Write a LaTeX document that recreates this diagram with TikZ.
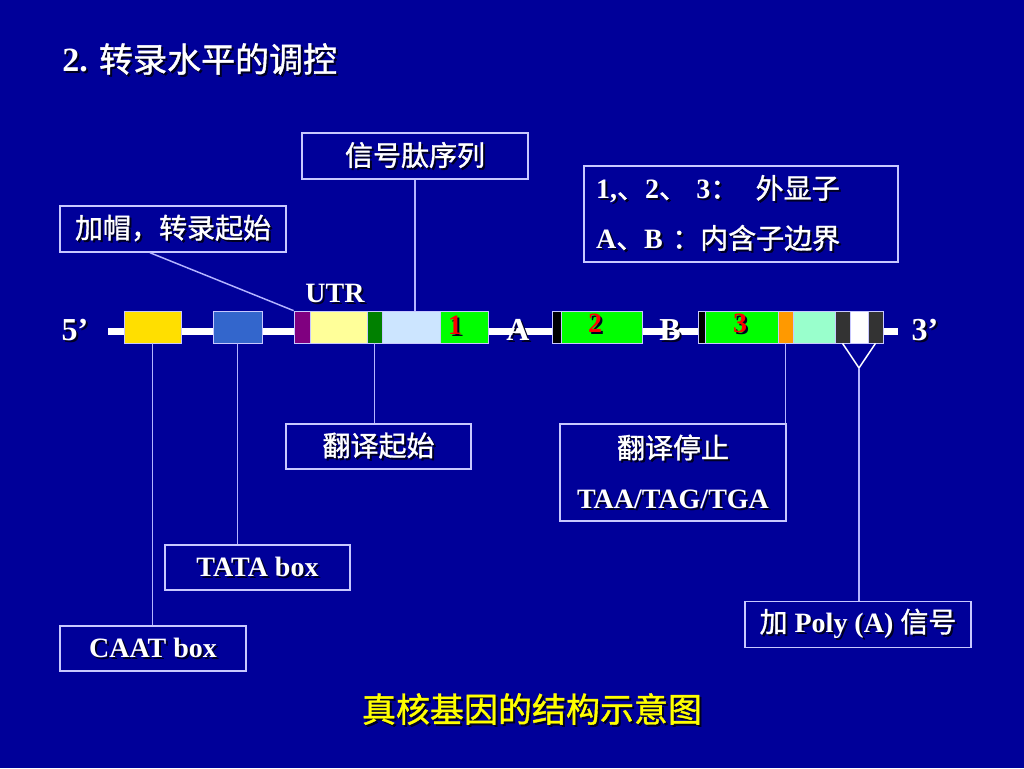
\documentclass[tikz,border=0pt]{standalone}
\usepackage{fontspec}
\setmainfont{Liberation Serif}
\newfontfamily\cjk{Noto Sans CJK SC}[FakeBold=1.2]
\newcommand\zh[1]{{\cjk\mdseries #1}}
\definecolor{bgc}{HTML}{000099}
\definecolor{boxc}{HTML}{C8C8FF}
\definecolor{linec}{HTML}{B4B4FF}
\definecolor{shadowc}{HTML}{000022}
\definecolor{capyel}{HTML}{FFFF00}
\definecolor{cyel}{HTML}{FFDF00}
\definecolor{cblue}{HTML}{3366CC}
\definecolor{cpur}{HTML}{800080}
\definecolor{clyel}{HTML}{FFFF99}
\definecolor{cdgreen}{HTML}{008000}
\definecolor{clblue}{HTML}{CCE5FF}
\definecolor{cgreen}{HTML}{00FF00}
\definecolor{corange}{HTML}{FF9900}
\definecolor{caqua}{HTML}{99FFCC}
\definecolor{cdgray}{HTML}{333333}
\definecolor{cred}{HTML}{FF0000}
\newcommand\shd[1]{\leavevmode\rlap{\kern1.5pt\raisebox{-1.5pt}{\color{shadowc}#1}}#1}
\newcommand\seg[4]{\node[segbox, fill=#4, minimum width={(#3-#2)*0.75pt}] (#1) at ({(#2+#3)/2},327) {};}
\tikzset{
  x=0.75pt, y=-0.75pt,
  segbox/.style={rectangle, inner sep=0pt, minimum height=24pt, draw=boxc, line width=0.5pt},
  lblbox/.style={rectangle, draw=boxc, line width=1.1pt, inner sep=0pt, text=white,
    font=\bfseries\fontsize{21}{37.5}\selectfont, align=center},
  conn/.style={draw=linec, line width=1.1pt},
  endlbl/.style={text=white, font=\bfseries\fontsize{24}{28}\selectfont, inner sep=0pt},
  numlbl/.style={text=cred, font=\bfseries\fontsize{21}{25}\selectfont, inner sep=0pt},
}
\begin{document}
\begin{tikzpicture}
\fill[bgc] (0,0) rectangle (1024,768);
\useasboundingbox (0,0) rectangle (1024,768);

% title
\node[anchor=west, text=white, inner sep=0pt, font=\bfseries\fontsize{25.5}{30}\selectfont] (title) at (62,60) {\shd{2. \zh{转录水平的调控}}};

% backbone
\coordinate (lineL) at (108,331);
\coordinate (lineR) at (898,331);
\draw[white, line width=5.25pt] (lineL) -- (lineR);

% segments
\seg{yel}{124}{181}{cyel}
\seg{blu}{213}{262}{cblue}
\seg{pur}{294}{310}{cpur}
\seg{lyel}{310}{367}{clyel}
\seg{dgr}{367}{382}{cdgreen}
\seg{lbl}{382}{440}{clblue}
\seg{ex1}{440}{488}{cgreen}
\seg{bk2}{552}{561}{black}
\seg{ex2}{561}{642}{cgreen}
\seg{bk3}{698}{705}{black}
\seg{ex3}{705}{778}{cgreen}
\seg{ora}{778}{793}{corange}
\seg{aqu}{793}{835}{caqua}
\seg{gr1}{835}{850}{cdgray}
\seg{wht}{850}{868}{white}
\seg{gr2}{868}{883}{cdgray}

% end and intron labels
\node[endlbl] (five) at (75,331) {\shd{5’}};
\node[endlbl] (three) at (925,331) {\shd{3’}};
\node[endlbl] (la) at (518,331) {\shd{A}};
\node[endlbl] (lb) at (670,331) {\shd{B}};
\node[text=white, inner sep=0pt, font=\bfseries\fontsize{21}{25}\selectfont] (utr) at (335,294) {\shd{UTR}};
\node[numlbl] (n1) at (455,326) {\shd{1}};
\node[numlbl] (n2) at (595,324) {\shd{2}};
\node[numlbl] (n3) at (740,324) {\shd{3}};

% label boxes
\node[lblbox, minimum width=169.5pt, minimum height=34.5pt] (sig) at (415,156) {\shd{\zh{信号肽序列}}};
\node[lblbox, minimum width=169.5pt, minimum height=34.5pt] (cap) at (173,229) {\shd{\zh{加帽，转录起始}}};
\node[lblbox, minimum height=72pt, text width=217.5pt, inner xsep=9pt, align=left] (legend) at (741,214)
  {\shd{1,\zh{、}2\zh{、 }3\zh{：}\hspace{13pt}\zh{外显子}}\\\shd{A\zh{、}B \zh{：}\zh{内含子边界}}};
\node[lblbox, minimum width=138.75pt, minimum height=33.75pt] (tstart) at (378.5,446.5) {\shd{\zh{翻译起始}}};
\node[lblbox, minimum width=169.5pt, minimum height=72.75pt] (tstop) at (673,472.5) {\shd{\zh{翻译停止}}\\\shd{TAA/TAG/TGA}};
\node[lblbox, minimum width=138.75pt, minimum height=33.75pt] (tata) at (257.5,567.5) {\shd{TATA box}};
\node[lblbox, minimum width=139.5pt, minimum height=33.75pt] (caat) at (153,648.5) {\shd{CAAT box}};
\node[lblbox, minimum width=169.5pt, minimum height=34.5pt] (poly) at (858,624.5) {\shd{\zh{加} Poly (A) \zh{信号}}};

% connectors
\draw[conn] ([xshift=-17.25pt]cap.south) -- (pur.north west);
\draw[conn] (sig.south) -- (sig.south |- lbl.north);
\draw[conn] (dgr.south) -- (dgr.south |- tstart.north);
\draw[conn] (ora.south) -- (ora.south |- tstop.north);
\draw[conn] (blu.south) -- (blu.south |- tata.north);
\draw[conn] (yel.south) -- (yel.south |- caat.north);
\coordinate (apex) at (859,368);
\draw[conn, draw=white] (gr1.south) -- (apex) -- (gr2.south);
\draw[conn] (apex) -- (apex |- poly.north);

% caption
\node[text=capyel, inner sep=0pt, font=\fontsize{25.5}{30}\selectfont] (caption) at (532,710) {\shd{\zh{真核基因的结构示意图}}};
\end{tikzpicture}
\end{document}
